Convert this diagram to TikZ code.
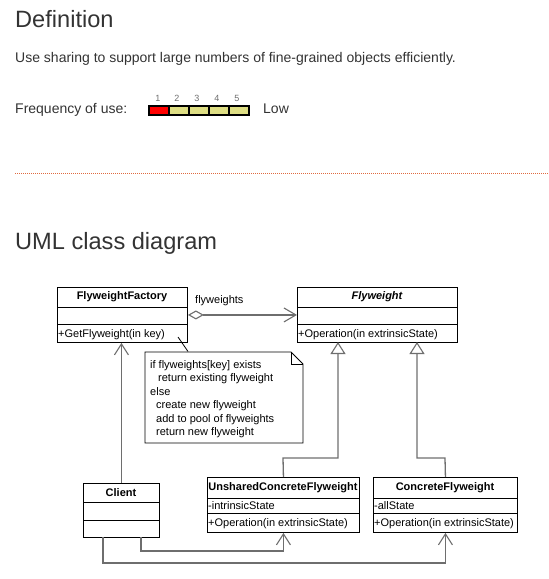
\documentclass[tikz,border=0pt]{standalone}
\usepackage{fontspec}
\setmainfont{Liberation Sans}
\usetikzlibrary{arrows.meta}
\definecolor{txt}{HTML}{333333}
\definecolor{linegray}{HTML}{6E6E6E}
\definecolor{dotc}{HTML}{E06A40}
\definecolor{khaki}{HTML}{DEDE84}
\newcommand\dfont{\fontsize{11}{13}\selectfont}
\begin{document}
\begin{tikzpicture}[x=1pt,y=-1pt,
  cbox/.style={draw=black, line width=0.9pt, fill=white, inner sep=0pt, anchor=north west},
  ctitle/.style={font=\dfont\bfseries, inner sep=0pt, text=black},
  cmem/.style={font=\dfont, inner sep=0pt, anchor=base west, text=black},
  sep/.style={draw=black, line width=0.9pt},
  conn/.style={draw=linegray, line width=1.3pt},
  dep/.style={conn, -{Straight Barb[length=11pt,width=14pt,line width=1.1pt]}},
  gen/.style={conn, -{Triangle[open,length=12pt,width=15pt,line width=1.1pt,fill=white]}},
  heading/.style={font=\fontsize{23.6}{28}\selectfont, text=txt, anchor=base west, inner sep=0pt},
  body/.style={font=\fontsize{14}{17}\selectfont, text=txt, anchor=base west, inner sep=0pt},
  notetxt/.style={font=\dfont, text=black, anchor=base west, inner sep=0pt},
  cell/.style={draw=black, line width=1.9pt, minimum width=20pt, minimum height=9pt, inner sep=0pt, anchor=north west},
  num/.style={font=\fontsize{9}{10}\selectfont, text=linegray, inner sep=0pt}
]
\useasboundingbox (0,0) rectangle (549,579);

% ---------- Definition section ----------
\node[heading] (hdef) at (15,27) {Definition};
\node[body] (intent) at (15,62.5) {Use sharing to support large numbers of fine-grained objects efficiently.};
\node[body] (freq) at (15,113) {Frequency of use:};
\node[cell, fill=red] (c1) at (148,105) {};
\node[cell, fill=khaki] (c2) at (168,105) {};
\node[cell, fill=khaki] (c3) at (188,105) {};
\node[cell, fill=khaki] (c4) at (208,105) {};
\node[cell, fill=khaki] (c5) at (228,105) {};
\node[num] (n1) at (158,98) {1};
\node[num] (n2) at (177,98) {2};
\node[num] (n3) at (197,98) {3};
\node[num] (n4) at (217,98) {4};
\node[num] (n5) at (237,98) {5};
\node[body] (low) at (263,113) {Low};

\coordinate (dl) at (15,173.5);
\coordinate (dr) at (549,173.5);
\draw[dotc, line width=0.8pt, dash pattern=on 0.8pt off 1.2pt] (dl) -- (dr);

\node[heading] (huml) at (15,249) {UML class diagram};

% ---------- FlyweightFactory ----------
\node[cbox, minimum width=130pt, minimum height=55pt] (ff) at (57,287) {};
\draw[sep] (57,307) -- (187,307);
\draw[sep] (57,324) -- (187,324);
\node[ctitle] (fft) at (122,297) {FlyweightFactory};
\node[cmem] (ffo) at (58,337) {+GetFlyweight(in key)};

% ---------- Flyweight ----------
\node[cbox, minimum width=160pt, minimum height=55pt] (fw) at (297,287) {};
\draw[sep] (297,307) -- (457,307);
\draw[sep] (297,324) -- (457,324);
\node[ctitle, font=\dfont\bfseries\itshape] (fwt) at (377,297) {Flyweight};
\node[cmem] (fwo) at (298,337) {+Operation(in extrinsicState)};

% ---------- Client ----------
\node[cbox, minimum width=76pt, minimum height=54pt] (cl) at (83,483) {};
\draw[sep] (83,502) -- (159,502);
\draw[sep] (83,520) -- (159,520);
\node[ctitle] (clt) at (121,492.5) {Client};

% ---------- UnsharedConcreteFlyweight ----------
\node[cbox, minimum width=152pt, minimum height=55pt] (un) at (207,477) {};
\draw[sep] (207,498) -- (359,498);
\draw[sep] (207,513) -- (359,513);
\node[ctitle] (unt) at (283,487.5) {UnsharedConcreteFlyweight};
\node[cmem] (una) at (208,509) {-intrinsicState};
\node[cmem] (uno) at (208,526.5) {+Operation(in extrinsicState)};

% ---------- ConcreteFlyweight ----------
\node[cbox, minimum width=144pt, minimum height=55pt] (cf) at (373,477) {};
\draw[sep] (373,498) -- (517,498);
\draw[sep] (373,513) -- (517,513);
\node[ctitle] (cft) at (445,487.5) {ConcreteFlyweight};
\node[cmem] (cfa) at (374,509) {-allState};
\node[cmem] (cfo) at (374,526.5) {+Operation(in extrinsicState)};

% ---------- Note ----------
\node[inner sep=0pt, minimum width=158pt, minimum height=91pt, anchor=north west] (note) at (145,352) {};
\draw[black, line width=0.9pt, fill=white] (145,352) -- (291,352) -- (303,364) -- (303,443) -- (145,443) -- cycle;
\draw[black, line width=0.9pt] (291,352) -- (291,364) -- (303,364);
\node[notetxt] (l1) at (150,368) {if flyweights[key] exists};
\node[notetxt] (l2) at (158,381.5) {return existing flyweight};
\node[notetxt] (l3) at (150,395) {else};
\node[notetxt] (l4) at (156,408.5) {create new flyweight};
\node[notetxt] (l5) at (156,422) {add to pool of flyweights};
\node[notetxt] (l6) at (156,435.5) {return new flyweight};
\coordinate (na) at (178,337);
\coordinate (nb) at (188,351.5);
\draw[black, line width=0.8pt] (na) -- (nb);

% ---------- Connectors ----------
\draw[conn, {Diamond[open,length=16pt,width=9pt,line width=1.1pt,fill=white]}-{Straight Barb[length=12pt,width=14pt,line width=1.1pt]}] (ff.east) -- (fw.west);
\node[font=\dfont, text=black, anchor=base west, inner sep=0pt] (lblfw) at (195,303) {flyweights};

\draw[dep] (cl.north) -- (cl.north |- ff.south);

\coordinate (cla) at (141,537);
\coordinate (clb) at (103,537);
\draw[dep] (cla) -- (141,551) -| (un.south);
\draw[dep] (clb) -- (103,563) -| (cf.south);

\coordinate (g1) at (338,342);
\coordinate (g2) at (417,342);
\draw[gen] (un.north) -- (283,458) -| (g1);
\draw[gen] (cf.north) -- (445,458) -| (g2);
\end{tikzpicture}
\end{document}
